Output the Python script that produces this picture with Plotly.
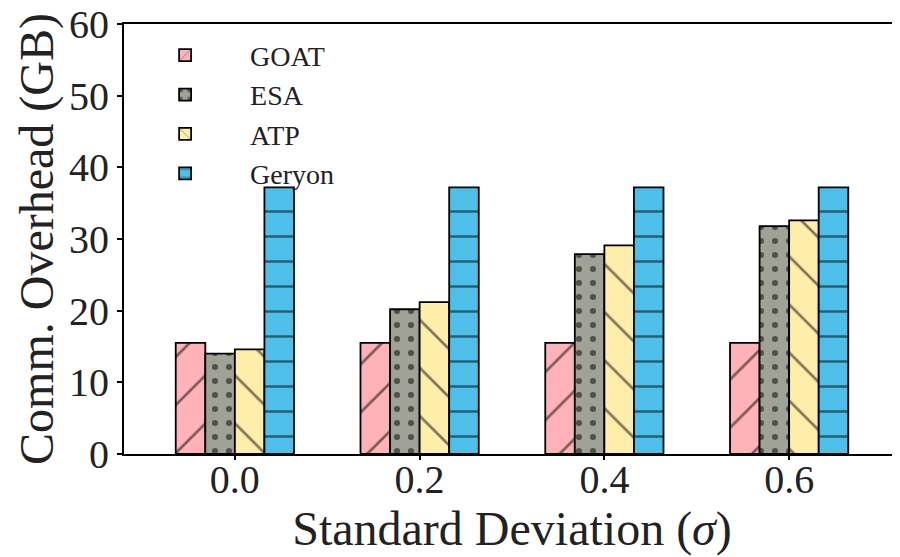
import plotly.graph_objects as go

categories = ["0.0", "0.2", "0.4", "0.6"]
series_names = ["GOAT", "ESA", "ATP", "Geryon"]
goat = [15.5, 15.5, 15.5, 15.5]
esa = [14.0, 20.2, 27.9, 31.8]
atp = [14.6, 21.2, 29.1, 32.6]
geryon = [37.2, 37.2, 37.2, 37.2]
y_ticks = [0, 10, 20, 30, 40, 50, 60]

values = [goat, esa, atp, geryon]
colors = ["#FFB3B8", "#A0A296", "#FFEEAA", "#4DBFE8"]
shapes = ["/", ".", "\\", "-"]
sizes = [34, 14, 34, 25]
solid = [0.08, 0.15, 0.08, 0.1]

fig = go.Figure()
for name, vals, c, sh, sz, so in zip(series_names, values, colors, shapes, sizes, solid):
    fig.add_trace(go.Bar(
        x=categories, y=vals, name=name,
        marker=dict(color=c, line=dict(color="black", width=1.8),
                    pattern=dict(shape=sh, fgcolor="black", bgcolor=c, size=sz, solidity=so)),
    ))

font_family = "Liberation Serif"
# the page body has an 8px margin, so the figure is made 8px smaller
fig.update_layout(
    width=892, height=549,
    margin=dict(l=116, r=0, t=16, b=103, autoexpand=False),
    plot_bgcolor="white", paper_bgcolor="white",
    barmode="group", bargap=0.36, bargroupgap=0,
    font=dict(family=font_family, size=40, color="#222"),
    legend=dict(x=-0.005, y=0.985, xanchor="left", yanchor="top",
                bgcolor="rgba(0,0,0,0)", font=dict(size=28), tracegroupgap=0,
                itemwidth=120),
    showlegend=True,
)
fig.update_xaxes(
    type="category", range=[-0.6, 3.6], automargin=False,
    showline=True, linecolor="black", linewidth=2, mirror=True,
    ticks="outside", ticklen=4, tickcolor="black", tickwidth=1.5,
    ticklabelstandoff=-15,
    title=dict(text="Standard Deviation (<i>σ</i>)", standoff=0),
    showgrid=False,
)
fig.update_yaxes(
    range=[0, 60], tickvals=y_ticks, automargin=False,
    showline=True, linecolor="black", linewidth=2,
    ticks="outside", ticklen=5, tickcolor="black", tickwidth=1.5,
    ticklabeloverflow="allow",
    title=dict(text="Comm. Overhead (GB)", standoff=0),
    showgrid=False, zeroline=False,
)
fig.write_html("out.html")
